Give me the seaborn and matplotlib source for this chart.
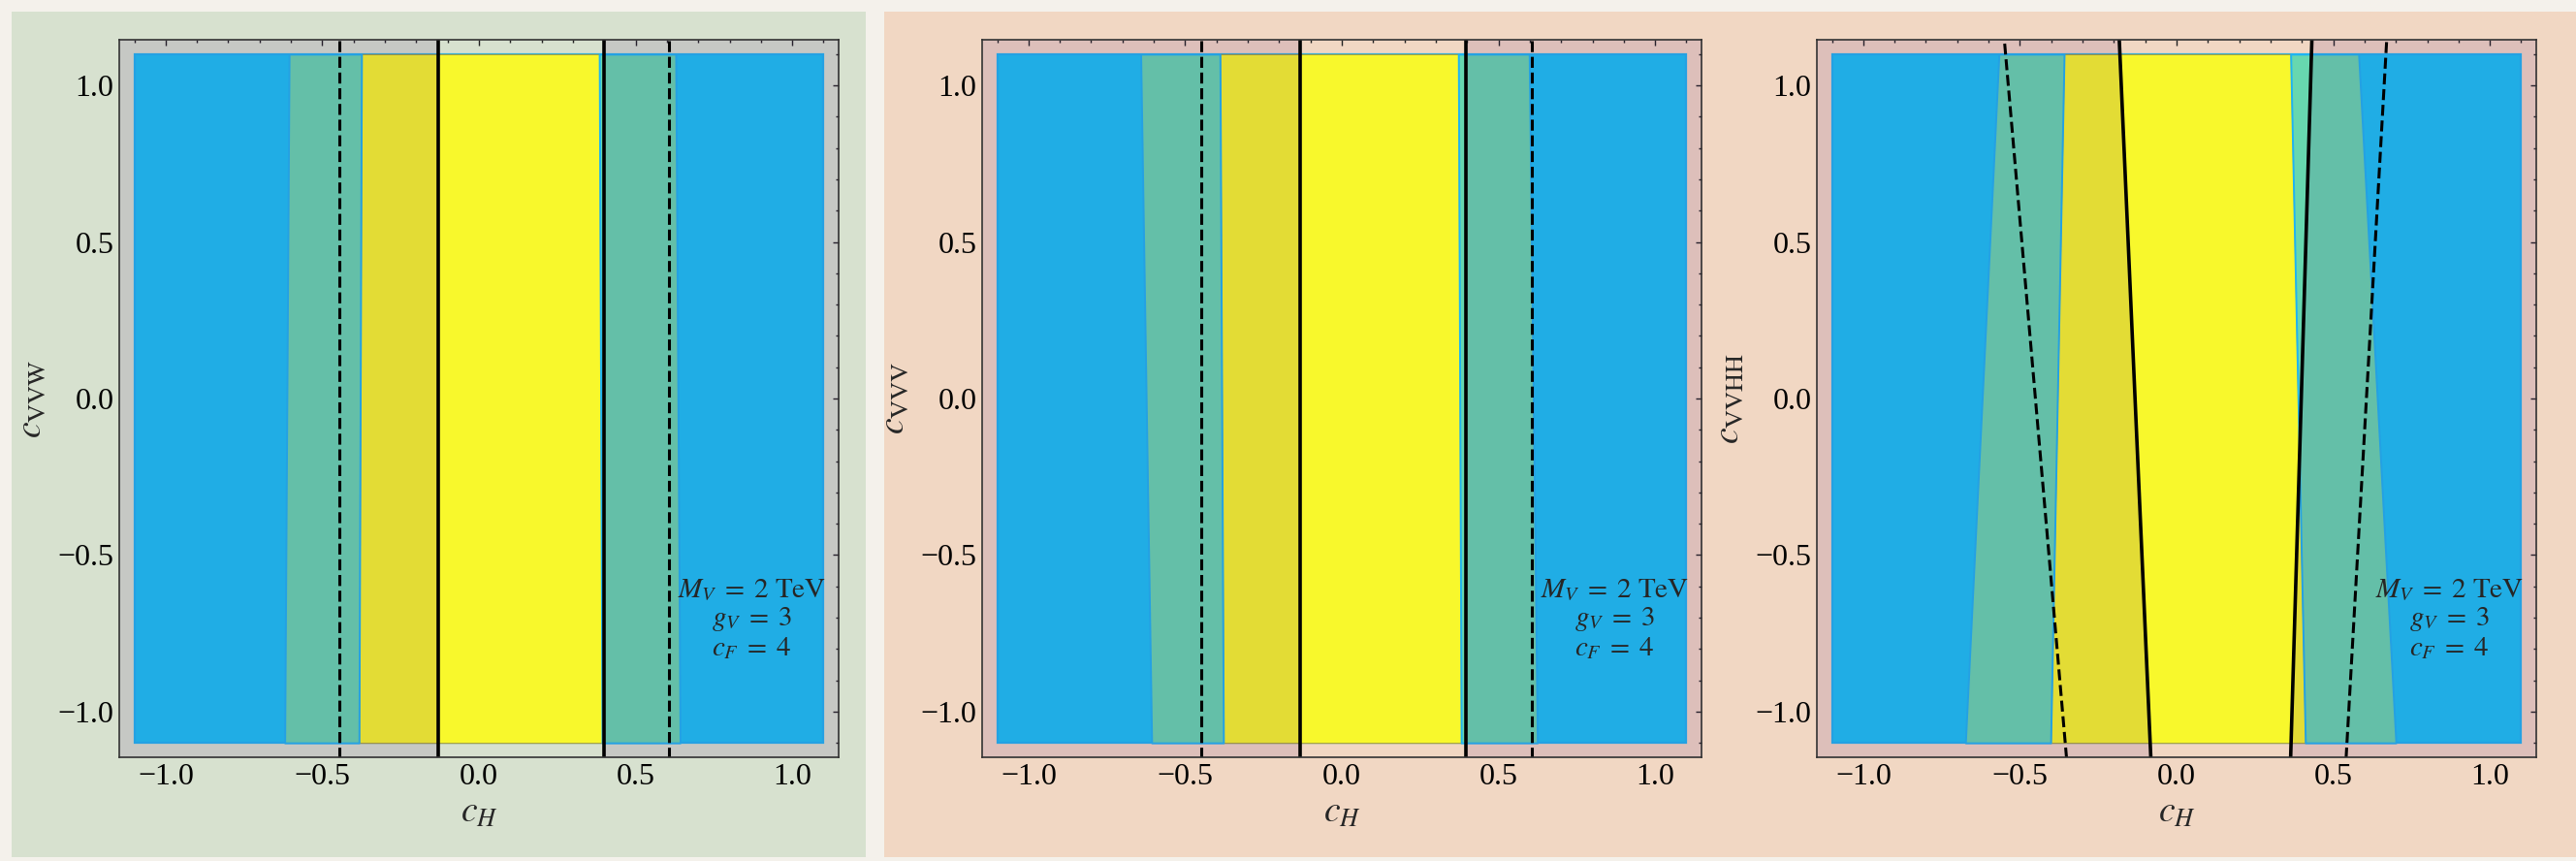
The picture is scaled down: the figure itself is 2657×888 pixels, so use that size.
import matplotlib
matplotlib.use("Agg")
import matplotlib.pyplot as plt
from matplotlib.patches import Rectangle
from matplotlib.ticker import MultipleLocator
import seaborn as sns

# ---- chart content -------------------------------------------------------
y_labels = [r"$c_{\mathrm{VVW}}$", r"$c_{\mathrm{VVV}}$", r"$c_{\mathrm{VVHH}}$"]
x_label = r"$c_H$"
param_text = ("$M_V\\;=\\;2\\ \\mathrm{TeV}$\n"
              "$g_V\\;=\\;3$\n"
              "$c_F\\;=\\;4$")
tick_values = [-1.0, -0.5, 0.0, 0.5, 1.0]

# scanned parameter region
region_lo, region_hi = -1.1, 1.1
# region boundaries (c_H) at c = -1.1 and c = +1.1, one row per panel
y_region = [-1.1, 1.1]
green_left_outer = [[-0.620, -0.606], [-0.607, -0.642], [-0.674, -0.567]]
yellow_left = [[-0.383, -0.375], [-0.378, -0.389], [-0.402, -0.359]]
yellow_right = [[0.393, 0.384], [0.381, 0.372], [0.411, 0.364]]
green_right_outer = [[0.642, 0.628], [0.624, 0.598], [0.700, 0.581]]

# contour lines (c_H) at c = -1.15 and c = +1.15
y_line = [-1.15, 1.15]
solid_left = [[-0.131, -0.131], [-0.133, -0.133], [-0.082, -0.183]]
solid_right = [[0.398, 0.398], [0.397, 0.397], [0.364, 0.432]]
dashed_left = [[-0.446, -0.446], [-0.449, -0.449], [-0.351, -0.550]]
dashed_right = [[0.608, 0.608], [0.605, 0.605], [0.541, 0.671]]

# ---- styling -------------------------------------------------------------
sns.set_theme(style="white")
plt.rcParams["font.family"] = ["Liberation Serif", "DejaVu Serif"]
plt.rcParams["mathtext.fontset"] = "stix"
plt.rcParams["axes.unicode_minus"] = True

PAGE = "#f4f1eb"
PANEL_COLORS = ["#d7e1cf", "#f1d7c3", "#f1d7c3"]
BLUE = "#1ac2f4"
BLUE_EDGE = "#1fb4f2"
GREEN = "#67d7af"
YELLOW = "#f8f82c"
YELLOW_EDGE = "#a89f3a"
SHADE = "#50197a"
SHADE_ALPHA = 0.12

W, H, DPI = 2657, 888, 100
fig = plt.figure(figsize=(W / DPI, H / DPI), dpi=DPI, facecolor=PAGE)

# paper-like backing panels behind the plots
fig.patches.append(Rectangle((12 / W, 4 / H), (893 - 12) / W, (876 - 4) / H,
                             transform=fig.transFigure, facecolor=PANEL_COLORS[0],
                             edgecolor="none", zorder=-10))
fig.patches.append(Rectangle((912 / W, 4 / H), (W - 912) / W, (876 - 4) / H,
                             transform=fig.transFigure, facecolor=PANEL_COLORS[1],
                             edgecolor="none", zorder=-10))

ax_left = [123, 1013, 1874]
ax_w, ax_h = 742, 740
ax_bottom = 888 - 781

XLIM = (-1.148, 1.148)
YLIM = (-1.146, 1.146)

for i in range(3):
    ax = fig.add_axes([ax_left[i] / W, ax_bottom / H, ax_w / W, ax_h / H])
    ax.set_facecolor("none")

    # full scan region
    ax.add_patch(Rectangle((region_lo, region_lo), region_hi - region_lo,
                           region_hi - region_lo, facecolor=BLUE,
                           edgecolor=BLUE_EDGE, lw=1.6, zorder=1))
    # central allowed band
    ax.fill_betweenx(y_region, yellow_left[i], yellow_right[i],
                     facecolor=YELLOW, edgecolor=YELLOW_EDGE, lw=0.8, zorder=2)
    # intermediate bands
    ax.fill_betweenx(y_region, green_left_outer[i], yellow_left[i],
                     facecolor=GREEN, edgecolor=BLUE_EDGE, lw=1.4, zorder=3)
    ax.fill_betweenx(y_region, yellow_right[i], green_right_outer[i],
                     facecolor=GREEN, edgecolor=BLUE_EDGE, lw=1.4, zorder=3)

    # shading outside the solid contours
    ax.fill_betweenx(y_line, -2.0, solid_left[i], facecolor=SHADE,
                     alpha=SHADE_ALPHA, lw=0, zorder=4)
    ax.fill_betweenx(y_line, solid_right[i], 2.0, facecolor=SHADE,
                     alpha=SHADE_ALPHA, lw=0, zorder=4)

    # contour lines
    for xs, ls in ((solid_left[i], "-"), (solid_right[i], "-"),
                   (dashed_left[i], "--"), (dashed_right[i], "--")):
        sns.lineplot(x=xs, y=y_line, sort=False, estimator=None, ax=ax,
                     color="black", lw=2.6 if ls == "-" else 2.2,
                     linestyle=ls, zorder=5,
                     **({"dashes": (3.3, 1.8)} if ls == "--" else {}))

    ax.text(0.87, -0.705, param_text, ha="center", va="center",
            fontsize=21, linespacing=1.1, zorder=6)

    ax.set_xlim(*XLIM)
    ax.set_ylim(*YLIM)
    ax.set_xticks(tick_values)
    ax.set_yticks(tick_values)
    ax.set_xticklabels([f"{v:.1f}".replace("-", "\u2212") for v in tick_values])
    ax.set_yticklabels([f"{v:.1f}".replace("-", "\u2212") for v in tick_values])
    ax.xaxis.set_minor_locator(MultipleLocator(0.1))
    ax.yaxis.set_minor_locator(MultipleLocator(0.1))
    ax.tick_params(which="both", direction="in", top=True, right=True,
                   colors="#222222", labelcolor="black", labelsize=23, width=1.0)
    ax.tick_params(which="major", length=4.5, pad=4)
    ax.tick_params(which="minor", length=2.5)
    for s in ax.spines.values():
        s.set_color("#333333")
        s.set_linewidth(1.2)
        s.set_zorder(7)

    ax.set_xlabel(x_label, fontsize=27, labelpad=4)
    ax.set_ylabel(y_labels[i], fontsize=27, labelpad=6)

fig.savefig("out.png", dpi=DPI, facecolor=PAGE)
